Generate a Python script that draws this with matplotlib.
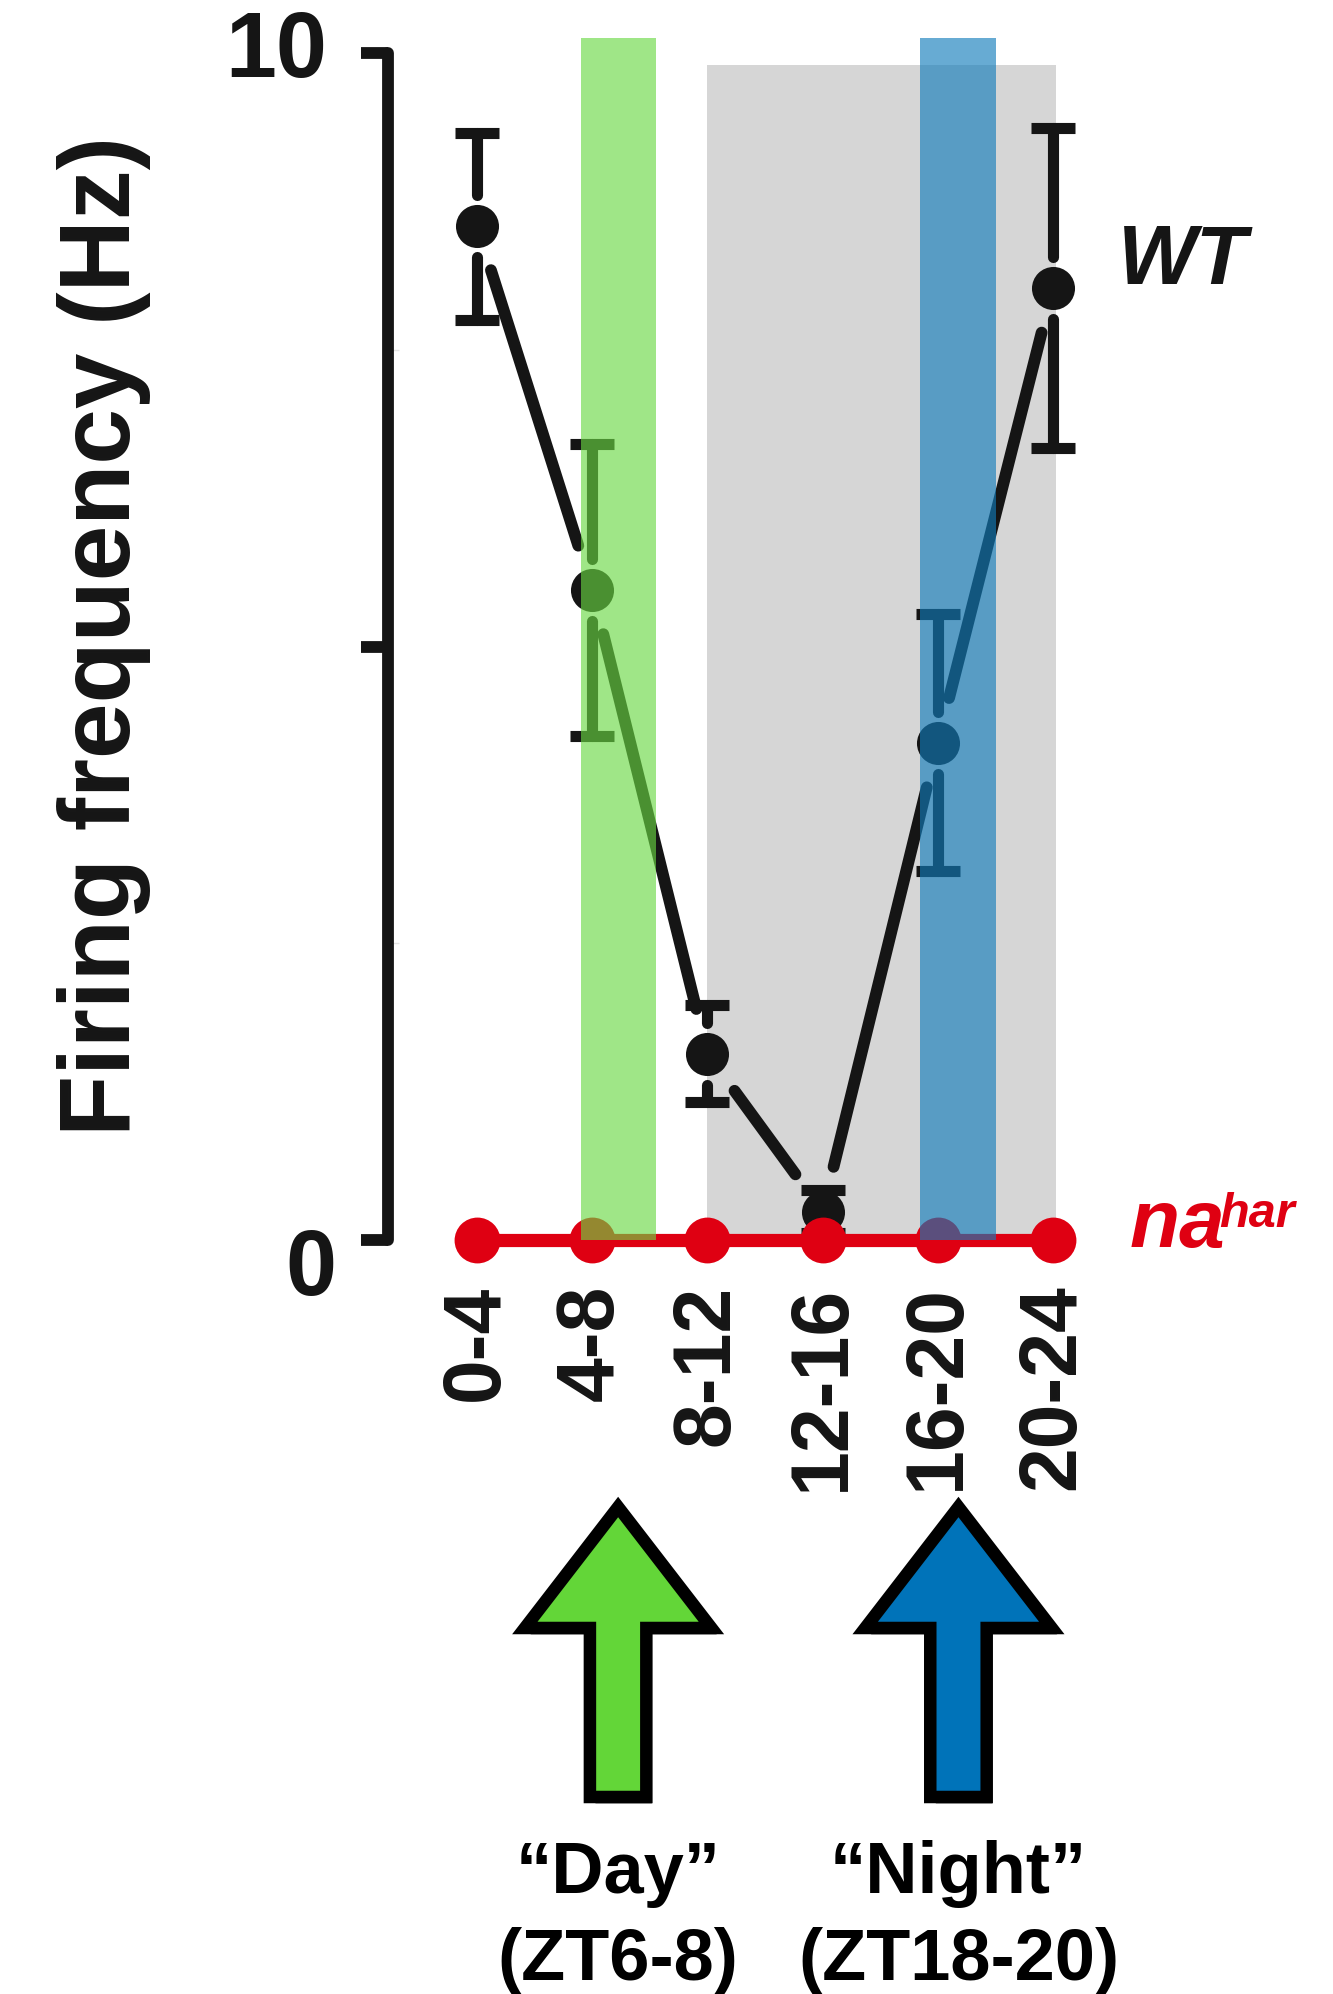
import numpy as np
import matplotlib
matplotlib.use('Agg')
import matplotlib.pyplot as plt
from matplotlib.transforms import blended_transform_factory
from matplotlib.patches import Polygon, Rectangle
import matplotlib.patheffects as pe

plt.rcParams['font.family'] = ['Liberation Sans', 'DejaVu Sans']

# ---------------- data ----------------
time_bins = ['0-4', '4-8', '8-12', '12-16', '16-20', '20-24']
wt_mean = [8.54, 5.48, 1.57, 0.24, 4.19, 8.02]
wt_sem = [0.79, 1.23, 0.41, 0.18, 1.08, 1.35]
nahar_mean = [0, 0, 0, 0, 0, 0]
y_ticks = [0, 5, 10]
y_tick_labels = ['0', '', '10']
day_window = [0.9, 1.55]      # highlighted "Day" recording window (x-position units)
night_window = [3.85, 4.51]   # highlighted "Night" recording window
dark_phase = [2.0, 5.03]      # grey dark phase
arrow_texts = [('\u201cDay\u201d', '(ZT6-8)'), ('\u201cNight\u201d', '(ZT18-20)')]

# ---------------- style ----------------
BLACK = '#151515'
RED = '#DF0012'
GREEN = '#69D842'
BLUE = '#117CBB'
GREEN_ARROW = '#63D638'
BLUE_ARROW = '#0073B9'
LW = 8.5

W, H = 1333, 1994
fig = plt.figure(figsize=(W / 100, H / 100), dpi=100)
ax = fig.add_axes([388 / W, 1 - 1240 / H, (1099 - 388) / W, (1240 - 53) / H])
x = np.arange(len(time_bins))
ax.set_xlim(-0.773, 5.4)
ax.set_ylim(0, 10)

# background bands
ax.add_patch(Rectangle((dark_phase[0], 0), dark_phase[1] - dark_phase[0], 9.9,
                       fc='#D6D6D6', ec='none', zorder=0, clip_on=False))
ax.add_patch(Rectangle((day_window[0], 0), day_window[1] - day_window[0], 10.13,
                       fc=GREEN, ec='none', alpha=0.635, zorder=5, clip_on=False))
ax.add_patch(Rectangle((night_window[0], 0), night_window[1] - night_window[0], 10.13,
                       fc=BLUE, ec='none', alpha=0.64, zorder=5, clip_on=False))

# WT connecting line with gaps at the markers
pts = ax.transData.transform(np.column_stack([x, wt_mean]))
inv = ax.transData.inverted()
gap_line = 46
for i in range(len(x) - 1):
    p0, p1 = pts[i], pts[i + 1]
    d = p1 - p0
    u = d / np.hypot(*d)
    seg = inv.transform([p0 + u * gap_line, p1 - u * gap_line])
    ax.plot(seg[:, 0], seg[:, 1], color=BLACK, lw=LW, solid_capstyle='round', zorder=2)

# WT error bars with gaps
py = ax.transData.transform((0, 1))[1] - ax.transData.transform((0, 0))[1]
gap_err = 31 / py
for xi, m, e in zip(x, wt_mean, wt_sem):
    for s in (1, -1):
        if e > gap_err:
            ax.plot([xi, xi], [m + s * gap_err, m + s * e], color=BLACK, lw=LW - 0.5,
                    solid_capstyle='round', zorder=2)
    ax.plot([xi, xi], [m + e, m - e], ls='none', marker='_', ms=31, mew=LW - 0.5,
            color=BLACK, zorder=2)
ax.plot(x, wt_mean, 'o', ms=31, color=BLACK, mew=0, zorder=2)

# nahar
ax.plot(x, nahar_mean, '-o', color=RED, lw=9.5, ms=33, mew=0, zorder=3, clip_on=False)

# axes styling
for sp in ['top', 'right', 'bottom']:
    ax.spines[sp].set_visible(False)
ax.spines['left'].set_linewidth(LW)
ax.spines['left'].set_color(BLACK)
ax.spines['left'].set_capstyle('round')
ax.set_xticks(x)
ax.set_xticklabels(time_bins, rotation=90, fontsize=58, fontweight='bold',
                   va='top', ha='center', color=BLACK)
ax.tick_params(axis='x', length=0, pad=32)
ax.set_yticks(y_ticks)
ax.set_yticklabels([''] * len(y_ticks))
ax.set_yticks([2.5, 7.5], minor=True)
ax.tick_params(axis='y', which='major', direction='out', length=19.5, width=LW, color=BLACK)
ax.tick_params(axis='y', which='minor', direction='in', length=8, width=1, color='#E4E4E4')

ytrans = blended_transform_factory(ax.transAxes, ax.transData)
label_offsets = {'0': (-37, -22), '10': (-44, 0)}
for val, lab in zip(y_ticks, y_tick_labels):
    if lab:
        ax.annotate(lab, xy=(0, val), xycoords=ytrans, xytext=label_offsets[lab],
                    textcoords='offset points', ha='right', va='center',
                    fontsize=66, fontweight='bold', color=BLACK, annotation_clip=False)

fig.text(104 / W, 1 - 636 / H, 'Firing frequency (Hz)', rotation=90, ha='center',
         va='center', fontsize=72, fontweight='bold', color=BLACK)

# series labels
ax.annotate('WT', xy=(x[-1], wt_mean[-1]), xytext=(47, 19), textcoords='offset points',
            ha='left', va='center', fontsize=60, fontweight='bold', fontstyle='italic',
            color=BLACK, annotation_clip=False)
na = ax.annotate('na', xy=(x[-1], nahar_mean[-1]), xytext=(55, -5), textcoords='offset points',
                 ha='left', va='baseline', fontsize=59, fontweight='bold', fontstyle='italic',
                 color=RED, annotation_clip=False)
ax.annotate('har', xy=(1.0, 0.49), xycoords=na, xytext=(-4, 0), textcoords='offset points',
            ha='left', va='baseline', fontsize=35, fontweight='bold', fontstyle='italic',
            color=RED, annotation_clip=False)

# arrows below the axis
btrans = blended_transform_factory(ax.transData, fig.transFigure)
tip, base, bottom = 1 - 1507 / H, 1 - 1628 / H, 1 - 1797 / H
hw, sw = 0.81, 0.245
for (lo, hi), col, (l1, l2) in zip([day_window, night_window], [GREEN_ARROW, BLUE_ARROW], arrow_texts):
    cx = (lo + hi) / 2
    verts = [(cx, tip), (cx + hw, base), (cx + sw, base), (cx + sw, bottom),
             (cx - sw, bottom), (cx - sw, base), (cx - hw, base)]
    poly = Polygon(verts, closed=True, transform=btrans, fc=col, ec='black', lw=9,
                   joinstyle='miter', clip_on=False,
                   path_effects=[pe.SimplePatchShadow(offset=(4, -5), alpha=0.3, shadow_rgbFace='k'),
                                 pe.Normal()])
    fig.add_artist(poly)
    t1 = fig.text(0, 1 - 1893 / H, l1, transform=btrans, ha='center', va='baseline',
                  fontsize=52, fontweight='bold', color='black')
    t1.set_x(cx)
    t2 = fig.text(0, 1 - 1980 / H, l2, transform=btrans, ha='center', va='baseline',
                  fontsize=52, fontweight='bold', color='black')
    t2.set_x(cx)

fig.savefig('out.png', dpi=100)
